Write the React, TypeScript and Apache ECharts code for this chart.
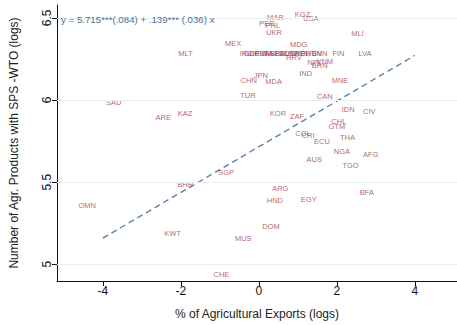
import React, { useEffect, useRef } from "react";
import * as echarts from "echarts";

const countries = [
  "MAR", "KGZ", "USA", "PER", "PHL", "UKR", "MLI", "MEX", "MDG", "MLT",
  "IRL", "GBR", "DEU", "FRA", "ITA", "ESP", "NLD", "BEL", "AUT", "DNK",
  "SWE", "POL", "PRT", "HUN", "SVN", "FIN", "LVA", "HRV", "NPL", "VNM",
  "BRN", "JPN", "IND", "CHN", "MDA", "MNE", "TUR", "CAN", "SAU", "ARE",
  "KAZ", "KOR", "ZAF", "IDN", "CIV", "CHL", "GTM", "COL", "CRI", "ECU",
  "THA", "NGA", "AFG", "AUS", "TGO", "ARG", "HND", "EGY", "BFA", "DOM",
  "MUS", "OMN", "BHR", "SGP", "KWT", "CHE",
];
const agExportsLog = [
  0.42, 1.12, 1.33, 0.21, 0.36, 0.39, 2.53, -0.66, 1.02, -1.88,
  -0.34, -0.19, -0.04, 0.09, 0.22, 0.34, 0.47, 0.6, 0.72, 0.85,
  0.98, 1.1, 1.26, 1.41, 1.56, 2.04, 2.72, 0.9, 1.43, 1.69,
  1.56, 0.05, 1.2, -0.26, 0.38, 2.08, -0.28, 1.69, -3.72, -2.45,
  -1.89, 0.49, 0.98, 2.29, 2.83, 2.05, 2.0, 1.13, 1.26, 1.62,
  2.27, 2.13, 2.87, 1.42, 2.35, 0.55, 0.41, 1.28, 2.77, 0.31,
  -0.4, -4.4, -1.89, -0.84, -2.21, -0.96,
];
const spsProductsLog = [
  6.5, 6.522, 6.498, 6.464, 6.452, 6.411, 6.402, 6.342, 6.337, 6.281,
  6.283, 6.283, 6.283, 6.283, 6.283, 6.283, 6.283, 6.283, 6.283, 6.283,
  6.283, 6.283, 6.283, 6.283, 6.283, 6.283, 6.283, 6.259, 6.229, 6.235,
  6.211, 6.151, 6.163, 6.116, 6.113, 6.12, 6.026, 6.02, 5.986, 5.892,
  5.92, 5.917, 5.899, 5.94, 5.93, 5.866, 5.839, 5.795, 5.783, 5.745,
  5.771, 5.689, 5.669, 5.64, 5.602, 5.464, 5.387, 5.393, 5.434, 5.229,
  5.157, 5.355, 5.484, 5.56, 5.187, 4.938,
];
const fitX = [-4, 4];
const fitY = [5.159, 6.271];
const xTicks = [-4, -2, 0, 2, 4];
const yTicks = [5, 5.5, 6, 6.5];
const equationText = "y = 5.715***(.084) + .139*** (.036) x";
const xTitle = "% of Agricultural Exports (logs)";
const yTitle = "Number of Agr. Products with SPS -WTO (logs)";

const FONT = "'Liberation Sans', Arial, Helvetica, sans-serif";

export default function App() {
  const ref = useRef<HTMLDivElement>(null);
  useEffect(() => {
    if (!ref.current) return;
    const chart = echarts.init(ref.current, null, { renderer: "svg" });
    const labelData = countries.map((c, i) => ({
      name: c,
      value: [agExportsLog[i], spsProductsLog[i]],
    }));
    const fitData = fitX.map((x, i) => [x, fitY[i]]);
    chart.setOption({
      animation: false,
      backgroundColor: "#ffffff",
      grid: { left: 52, right: 0, top: 5, bottom: 41, containLabel: false },
      xAxis: {
        type: "value",
        min: -5.175,
        max: 5.08,
        name: xTitle,
        nameLocation: "middle",
        nameGap: 27,
        nameTextStyle: { fontFamily: FONT, fontSize: 12, color: "#222" },
        axisLine: { show: true, onZero: false, lineStyle: { color: "#111", width: 1 } },
        axisTick: { show: true, length: 5, customValues: xTicks, lineStyle: { color: "#111" } },
        axisLabel: {
          customValues: xTicks,
          fontFamily: FONT,
          fontSize: 12,
          color: "#111",
          margin: 4,
          formatter: (v: number) => String(v),
        },
        splitLine: { show: false },
      },
      yAxis: {
        type: "value",
        min: 4.898,
        max: 6.578,
        name: yTitle,
        nameLocation: "middle",
        nameGap: 37,
        nameTextStyle: { fontFamily: FONT, fontSize: 12, color: "#222" },
        axisLine: { show: true, onZero: false, lineStyle: { color: "#111", width: 1 } },
        axisTick: { show: true, length: 5, customValues: yTicks, lineStyle: { color: "#111" } },
        axisLabel: {
          customValues: yTicks,
          rotate: 90,
          fontFamily: FONT,
          fontSize: 12,
          color: "#111",
          margin: 4,
          formatter: (v: number) => String(v),
        },
        splitLine: { show: false },
      },
      series: [
        {
          type: "line",
          data: [],
          silent: true,
          markLine: {
            silent: true,
            symbol: ["none", "none"],
            label: { show: false },
            lineStyle: { color: "#e8eff1", width: 1, type: "solid" },
            data: yTicks.map((v) => ({ yAxis: v })),
          },
          z: 0,
        },
        {
          type: "line",
          data: fitData,
          showSymbol: false,
          symbol: "none",
          lineStyle: { color: "#5b7fa8", width: 1.4, type: [6, 4] },
          z: 2,
        },
        {
          type: "scatter",
          data: labelData,
          symbolSize: 1,
          itemStyle: { color: "rgba(0,0,0,0)" },
          label: {
            show: true,
            position: "inside",
            formatter: "{b}",
            color: "#a03a4a",
            fontFamily: FONT,
            fontSize: 7.5,
          },
          z: 3,
        },
      ],
      graphic: [
        {
          type: "text",
          x: 61,
          y: 19,
          style: {
            text: equationText,
            fill: "#4a6e98",
            font: `9.7px ${FONT}`,
            verticalAlign: "middle",
            align: "left",
          },
          z: 10,
        },
      ],
    });
    return () => chart.dispose();
  }, []);
  return (
    <div
      ref={ref}
      style={{ position: "fixed", left: 0, top: 0, width: 457, height: 325, background: "#fff" }}
    />
  );
}
